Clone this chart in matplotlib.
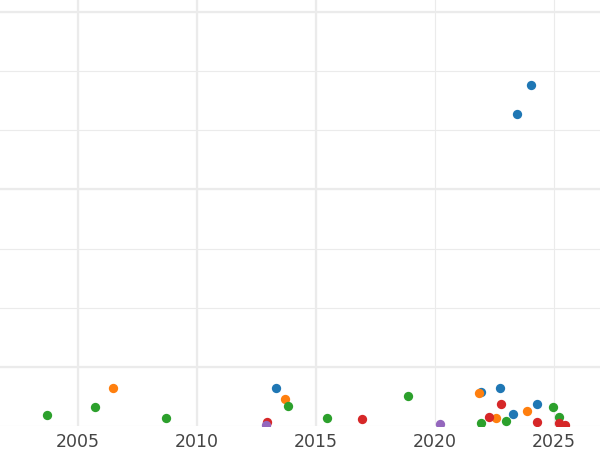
import matplotlib
matplotlib.use("Agg")
import matplotlib.pyplot as plt

# series values (year, value)
blue_x = [2013.31, 2021.92, 2022.73, 2023.26, 2024.29, 2024.05, 2023.45]
blue_y = [64, 58, 64, 21, 38, 576, 528]
orange_x = [2006.46, 2013.70, 2021.84, 2022.55, 2023.87]
orange_y = [64, 45, 56, 14, 26]
green_x = [2003.71, 2005.73, 2008.70, 2013.84, 2015.45, 2018.88, 2021.92, 2022.97, 2024.96, 2025.20]
green_y = [19, 32, 14, 33, 14, 51, 5, 8, 32, 15]
red_x = [2012.95, 2016.95, 2022.26, 2022.79, 2024.30, 2025.20, 2025.46]
red_y = [6, 12, 16, 37, 6, 5, 2]
purple_x = [2012.90, 2020.21]
purple_y = [2, 3]

year_ticks = [2005, 2010, 2015, 2020, 2025]
value_ticks = [0, 100, 200, 300, 400, 500, 600, 700]
heavy_year_ticks = [2005, 2010, 2015]
heavy_value_ticks = [100, 400, 700]

fig = plt.figure(figsize=(6, 4.5), dpi=100)
pos = [0, 24 / 450, 1, 426 / 450]

# back layer with the heavier grid lines
ax2 = fig.add_axes(pos)
ax2.set_xlim(2001.72, 2026.93)
ax2.set_ylim(0, 720)
ax2.set_xticks(heavy_year_ticks)
ax2.set_yticks(heavy_value_ticks)
ax2.grid(True, color="#ebebeb", linewidth=1.6)
ax2.tick_params(length=0, labelbottom=False, labelleft=False)
for s in ax2.spines.values():
    s.set_visible(False)

ax = fig.add_axes(pos)
ax.patch.set_alpha(0)
ax.set_xlim(2001.72, 2026.93)
ax.set_ylim(0, 720)
ax.set_xticks(year_ticks)
ax.set_yticks(value_ticks)
ax.grid(True, color="#ebebeb", linewidth=0.8)
ax.set_axisbelow(True)
ax.tick_params(length=0, labelleft=False, labelsize=12.5, labelcolor="#444444", pad=5)
for s in ax.spines.values():
    s.set_visible(False)

ax.scatter(blue_x, blue_y, s=45, color="#1f77b4", linewidth=0, zorder=3)
ax.scatter(orange_x, orange_y, s=45, color="#ff7f0e", linewidth=0, zorder=3)
ax.scatter(green_x, green_y, s=45, color="#2ca02c", linewidth=0, zorder=3)
ax.scatter(red_x, red_y, s=45, color="#d62728", linewidth=0, zorder=3)
ax.scatter(purple_x, purple_y, s=45, color="#9467bd", linewidth=0, zorder=3)

fig.savefig("out.png", dpi=100)
